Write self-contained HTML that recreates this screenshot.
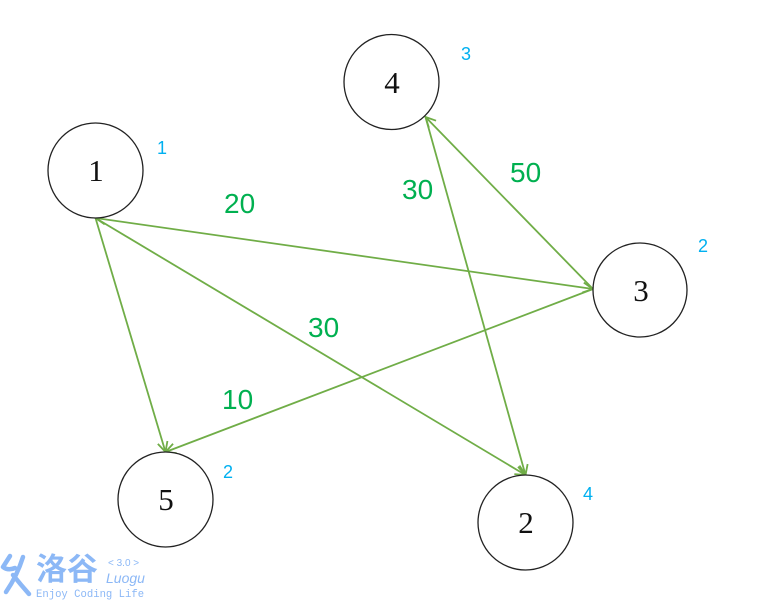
<!DOCTYPE html>
<html>
<head>
<meta charset="utf-8">
<style>
  html,body{margin:0;padding:0;background:#fff;}
  body{width:769px;height:600px;overflow:hidden;position:relative;}
  svg{position:absolute;left:0;top:0;}
</style>
</head>
<body>
<svg width="769" height="600" viewBox="0 0 769 600" xmlns="http://www.w3.org/2000/svg">
  <defs>
    <marker id="ah" markerUnits="userSpaceOnUse" markerWidth="14" markerHeight="14" refX="11" refY="6" orient="auto-start-reverse" viewBox="0 0 14 12">
      <path d="M1,1 L11,6 L1,11" fill="none" stroke="#70ad47" stroke-width="1.8"/>
    </marker>
  </defs>

  <!-- edges -->
  <g stroke="#70ad47" stroke-width="1.8" fill="none">
    <line x1="95.5" y1="218" x2="593" y2="289" marker-start="url(#ah)" marker-end="url(#ah)"/>
    <line x1="95.5" y1="218" x2="165.5" y2="452" marker-end="url(#ah)"/>
    <line x1="95.5" y1="218" x2="525.5" y2="475" marker-end="url(#ah)"/>
    <line x1="593" y1="289" x2="165.5" y2="452" marker-end="url(#ah)"/>
    <line x1="593" y1="289" x2="425.5" y2="117" marker-end="url(#ah)"/>
    <line x1="425.5" y1="117" x2="525.5" y2="475" marker-end="url(#ah)"/>
  </g>

  <!-- nodes -->
  <g stroke="#222" stroke-width="1.3" fill="#fff">
    <circle cx="95.5" cy="170.5" r="47.5"/>
    <circle cx="391.5" cy="82" r="47.5"/>
    <circle cx="640" cy="290" r="47"/>
    <circle cx="165.5" cy="499.5" r="47.5"/>
    <circle cx="525.5" cy="522.5" r="47.5"/>
  </g>
  <g font-family="'Liberation Serif', serif" font-size="31" fill="#111" text-anchor="middle">
    <text x="96" y="181">1</text>
    <text x="392" y="93">4</text>
    <text x="641" y="301">3</text>
    <text x="166" y="510">5</text>
    <text x="526" y="533">2</text>
  </g>

  <!-- edge weights -->
  <g font-family="'Liberation Sans', sans-serif" font-size="28" fill="#00b050">
    <text x="224" y="213">20</text>
    <text x="402" y="199">30</text>
    <text x="510" y="182">50</text>
    <text x="308" y="337">30</text>
    <text x="222" y="409">10</text>
  </g>

  <!-- blue labels -->
  <g font-family="'Liberation Sans', sans-serif" font-size="18" fill="#00b0f0">
    <text x="157" y="154">1</text>
    <text x="461" y="60">3</text>
    <text x="698" y="252">2</text>
    <text x="223" y="478">2</text>
    <text x="583" y="500">4</text>
  </g>

  <!-- logo -->
  <g stroke="#8cb8f6" stroke-width="4.5" stroke-linecap="round" stroke-linejoin="round" fill="none">
    <path d="M10,556 L3,567 Q8,571 15,568"/>
    <path d="M23,557 Q17,576 6,592"/>
    <path d="M13,575 Q21,585 29,594"/>
  </g>
  <text x="36" y="580" font-family="'Noto Sans CJK SC', sans-serif" font-weight="bold" font-size="31" fill="#8cb8f6">洛谷</text>
  <text x="108" y="566" font-family="'Liberation Sans', sans-serif" font-size="10" fill="#8cb8f6">&lt; 3.0 &gt;</text>
  <text x="106" y="583" font-family="'Liberation Sans', sans-serif" font-style="italic" font-size="14" fill="#8cb8f6">Luogu</text>
  <text x="36" y="597" font-family="'Liberation Mono', monospace" font-size="10.6" fill="#8cb8f6">Enjoy Coding Life</text>
</svg>
</body>
</html>
